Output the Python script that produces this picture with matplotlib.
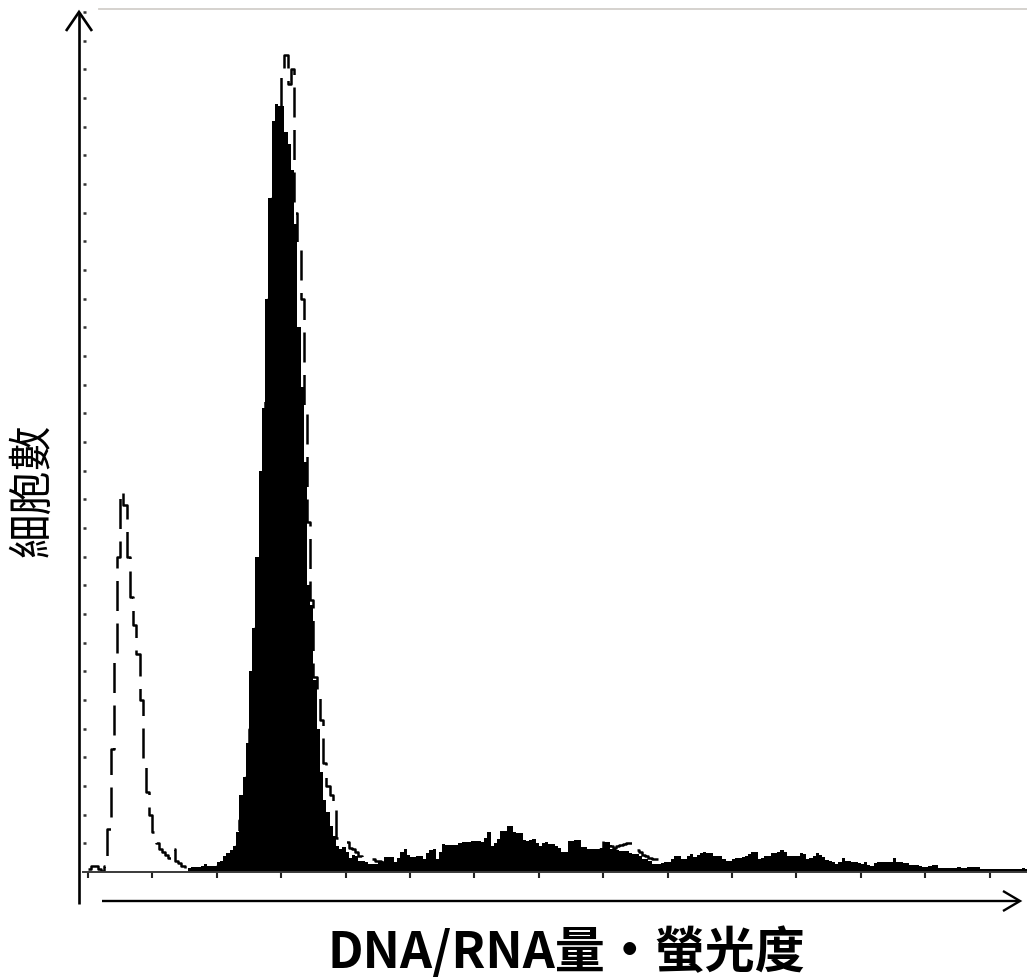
import numpy as np
import matplotlib
matplotlib.use('Agg')
import matplotlib.pyplot as plt
from matplotlib.lines import Line2D

plt.rcParams['font.family'] = ['Noto Sans CJK TC', 'DejaVu Sans']

# ---------------- data (cell counts per fluorescence channel) ----------------
# stained sample (filled black histogram), channels 0..291
sample_counts = [0] * 31 + [
    1.5, 1.7, 1.7, 1.7, 2, 2.8, 2, 2, 2, 3.5,                # 31-40
    3.8, 5.6, 6.5, 7.5, 9, 14, 27, 33, 45, 70,               # 41-50
    85, 110, 140, 162, 200, 235, 262, 268, 267, 267,         # 51-60
    258, 254, 245, 226, 190, 169, 143, 100, 93, 67,          # 61-70
    50, 35, 25, 21, 16, 12.5, 9, 8, 8.7, 7,                  # 71-80
    5,                                                       # 81
    6, 5.6, 3.8, 3.8, 3.5, 2.8, 2.8, 2.8, 3.5, 3.5,          # 82-91
    5.2, 5.2, 5.2, 3.5, 5, 7, 8, 6, 5.2, 5.2,                # 92-101
    5.6, 5.6, 4.5, 6.5, 7.5, 8, 4.5, 7, 9.7, 9.5,            # 102-111
    9.4, 9.4, 9.4, 10, 10.4, 10.4, 10.5, 10.8, 10.8, 10.8,   # 112-121
    10.4, 12, 13.9, 9, 10, 11.5, 14.3, 14.3, 16, 16,         # 122-131
    13.9, 13.7, 13.5, 11, 10.8, 11.3, 11.5, 10, 9, 10,       # 132-141
    10.4, 9.7, 9.7, 9, 8.5, 7, 7, 10.8, 10.8, 11.1,          # 142-151
    11, 8.7, 8.7, 8, 8, 8, 8, 8.5, 10.4, 10.4,               # 152-161
    8, 8, 7.5, 7.3, 7.3, 7.3, 6.5, 6.3, 6.3, 5.5,            # 162-171
    4.5, 4.5, 4, 2.8, 2.8, 2.8, 3, 3.5, 3.5, 4.5,            # 172-181
    5.6, 5.6, 4.5, 4.5, 5.5, 6.3, 5.2, 5.8, 6.5, 7,          # 182-191
    6.8, 6.6, 5.6, 5.6, 5.6, 4.5, 3.8, 3.8, 4.5, 4.9,        # 192-201
    4.9, 5.2, 5.6, 6.3, 7, 7, 4.5, 5, 5.6, 5.6,              # 202-211
    6.6, 6.6, 7, 7.6, 7, 5.6, 5.6, 5.6, 5.6, 6.6,            # 212-221
    6.4, 4.5, 5, 5.6, 6.6, 6, 5.2, 4.2, 4, 3.5,              # 222-231
    2.8, 3.5, 4.9, 3.8, 3.7, 3.5, 3.5, 3.3, 2.8, 3.5,        # 232-241
    2.3, 2.1, 3, 3.5, 3.5, 3.5, 3.5, 3.5, 4.9, 3.5,          # 242-251
    3.5, 3.1, 3.1, 2.6, 2.4, 2.4, 2, 1.7, 1.7, 2,            # 252-261
    2.4, 2.4, 1.4, 1.4, 1.4, 1.4, 1.4, 1.4, 1.7, 1.5,        # 262-271
    1.4, 1.7, 1.7, 1.7, 1.7, 1, 1, 1, 1, 1,                  # 272-281
    1, 1, 1, 1, 1, 1, 1, 1, 1.5, 1,                          # 282-291
]

# control sample (dashed outline), channels 0..179; nan = hidden under the fill
nan = np.nan
control_counts = [
    1, 2, 2, 1, 0.5, 2, 15, 43, 75, 110,                     # 0-9
    133, 128, 110, 96, 86, 76, 60, 38, 28, 20,               # 10-19
    14, 10, 8, 7, 6, 5, 8, 4, 3, 2,                          # 20-29
    1.5, 2, 1.5, 1.5,                                        # 30-33
    1, 1, 1, 1, 1.5, 1.5, 2, 2, 3, 4, 5, 6,                  # 34-45
    9, 18, 24, 33, 50, 65, 85, 110, 135, 165, 200, 235, 255, # 46-58
    262, 278, 285, 275, 280, 230, 218, 200, 160, 122,        # 59-68
    95, 68, 63, 53, 38, 30, 27, 22, 12, 11,                  # 69-78
    10.5, 10.4, 8.5, 8, 7, 5.5, 5, 5, 4.9, 4.5,              # 79-88
    4, 3.8, 3.5,                                             # 89-91
] + [nan] * 63 + [
    6, 6, 6, 7, 8, 11, 10, 9, 8.5, 9,                        # 155-164
    9.5, 9.7, 10, 10, 8.5, 7.5, 7, 6, 5.6, 5,                # 165-174
    4.5, 4.5, 4.5, 4.2, 3,                                   # 175-179
]

x_ticks = list(range(0, 281, 20))
y_ticks = list(range(10, 301, 10))

xlabel = 'DNA/RNA量・螢光度'
ylabel = '細胞數'

# ---------------- figure ----------------
W, H = 1027, 978
fig = plt.figure(figsize=(W / 100, H / 100), dpi=100)
fig.patch.set_facecolor('white')
ax = fig.add_axes([83 / W, (H - 873) / H, 944 / W, 863 / H])

s = np.asarray(sample_counts, dtype=float)
c = np.asarray(control_counts, dtype=float)
edges_s = np.arange(len(s) + 1)
edges_c = np.arange(len(c) + 1)

# dashed control histogram (behind)
ax.step(edges_c, np.append(c, c[-1]), where='post', color='black', lw=1.8,
        linestyle=(0, (12, 5)), zorder=2)
# filled sample histogram
ax.stairs(s, edges_s, fill=True, color='black', lw=0, zorder=3)

ax.set_xlim(-1.55, 291.6)
ax.set_ylim(0, 301)

for side in ('left', 'right'):
    ax.spines[side].set_visible(False)
ax.spines['bottom'].set_color('#3a3a3a')
ax.spines['bottom'].set_linewidth(1.4)
ax.spines['bottom'].set_zorder(4)
ax.spines['top'].set_color('#d2cfca')
ax.spines['top'].set_linewidth(1.3)
ax.spines['top'].set_bounds(3.4, 291.6)

ax.set_xticks(x_ticks)
ax.set_yticks(y_ticks)
ax.set_xticklabels([])
ax.set_yticklabels([])
ax.tick_params(axis='x', direction='out', length=4, width=1.5, color='#222222')
ax.tick_params(axis='y', direction='in', length=2.5, width=1.8, color='#333333')


def fp(px, py):
    return px / W, 1 - py / H


def fline(pts, lw):
    xs = [fp(p[0], p[1])[0] for p in pts]
    ys = [fp(p[0], p[1])[1] for p in pts]
    fig.add_artist(Line2D(xs, ys, transform=fig.transFigure, color='black',
                          lw=lw, solid_capstyle='butt', solid_joinstyle='miter'))


# y arrow
fline([(79, 905), (79, 14)], 1.9)
fline([(66, 32), (79, 13), (92, 32)], 1.9)
# x arrow
fline([(102, 902), (1019, 902)], 1.7)
fline([(1003, 892), (1020, 902), (1003, 912)], 1.7)

fig.text(566 / W, 1 - 953 / H, xlabel, fontsize=36, fontweight='bold',
         ha='center', va='center')
fig.text(32 / W, 1 - 490 / H, ylabel, fontsize=32, rotation=90,
         ha='center', va='center')

fig.savefig('out.png', dpi=100, facecolor='white')
